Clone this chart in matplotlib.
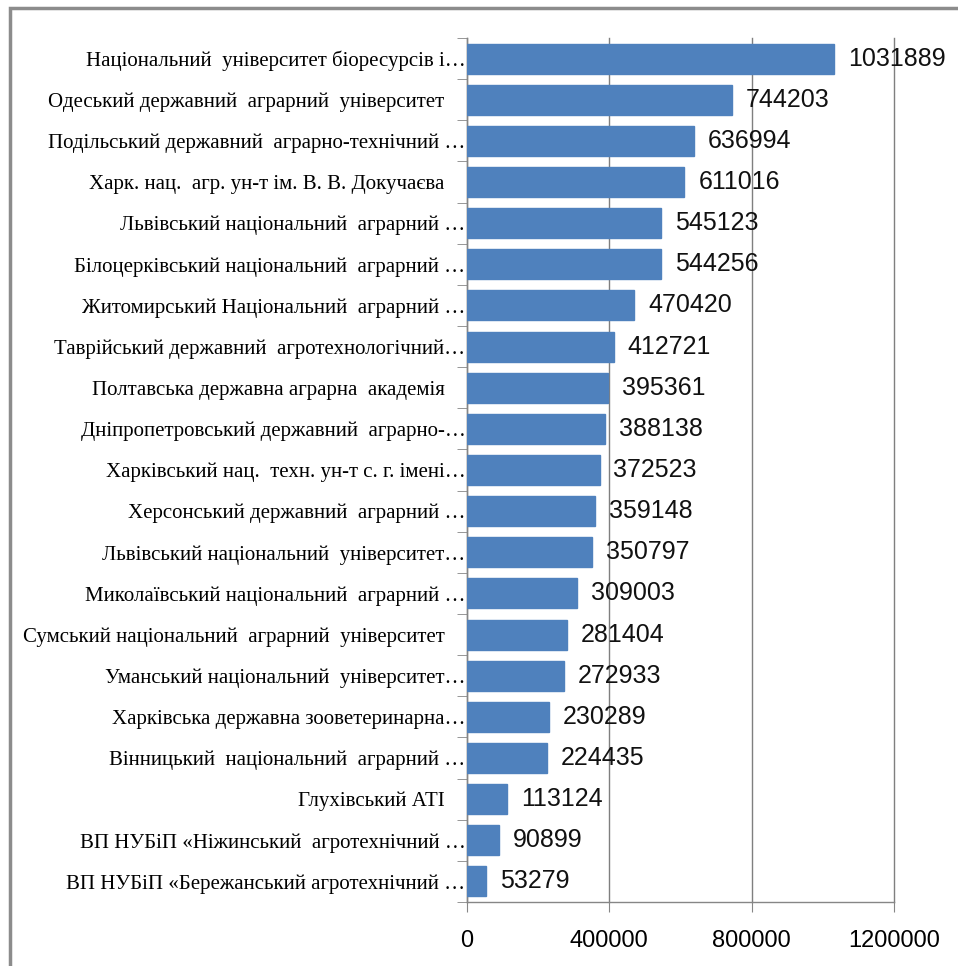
import numpy as np
import matplotlib.pyplot as plt
from matplotlib.patches import Rectangle

# Universities (top to bottom) and values
labels = [
    "Національний  університет біоресурсів і…",
    "Одеський державний  аграрний  університет",
    "Подільський державний  аграрно-технічний …",
    "Харк. нац.  агр. ун-т ім. В. В. Докучаєва",
    "Львівський національний  аграрний …",
    "Білоцерківський національний  аграрний …",
    "Житомирський Національний  аграрний …",
    "Таврійський державний  агротехнологічний…",
    "Полтавська державна аграрна  академія",
    "Дніпропетровський державний  аграрно-…",
    "Харківський нац.  техн. ун-т с. г. імені…",
    "Херсонський державний  аграрний …",
    "Львівський національний  університет…",
    "Миколаївський національний  аграрний …",
    "Сумський національний  аграрний  університет",
    "Уманський національний  університет…",
    "Харківська державна зооветеринарна…",
    "Вінницький  національний  аграрний …",
    "Глухівський АТІ",
    "ВП НУБіП «Ніжинський  агротехнічний …",
    "ВП НУБіП «Бережанський агротехнічний …",
]
values = [1031889, 744203, 636994, 611016, 545123, 544256, 470420, 412721,
          395361, 388138, 372523, 359148, 350797, 309003, 281404, 272933,
          230289, 224435, 113124, 90899, 53279]
x_ticks = [0, 400000, 800000, 1200000]

# labels without an ellipsis sit a bit further from the axis
disp_labels = [l if l.endswith("…") else l + "    " for l in labels]

dpi = 100
fig = plt.figure(figsize=(958 / dpi, 966 / dpi), dpi=dpi)
fig.patches.append(Rectangle((10 / 958, -0.1), 1.2, 1 - 8 / 966 + 0.1,
                             transform=fig.transFigure, fill=False,
                             edgecolor='#8c8c8c', linewidth=2.5))

ax = fig.add_axes([467 / 958, 64 / 966, 427 / 958, 864 / 966])
y = np.arange(len(values))
ax.barh(y, values, height=0.73, color='#4F81BD', edgecolor='#4F81BD', zorder=3)
ax.set_ylim(len(values) - 0.5, -0.5)
ax.set_xlim(0, 1200000)

for yi, v in zip(y, values):
    ax.annotate(str(v), (v, yi), xytext=(10, 0), textcoords='offset points',
                va='center', ha='left', fontsize=18,
                family='Liberation Sans', color='#111111', zorder=4)

ax.set_yticks(y)
ax.set_yticklabels(disp_labels, family='Liberation Serif', fontsize=15)
ax.tick_params(axis='y', length=0, pad=1)
ax.set_yticks(np.arange(-0.5, len(values)), minor=True)
ax.tick_params(axis='y', which='minor', length=7, color='#868686', direction='out')

ax.set_xticks(x_ticks)
ax.set_xticklabels([str(t) for t in x_ticks], family='Liberation Sans', fontsize=17)
ax.tick_params(axis='x', length=7, color='#868686', pad=13)
ax.xaxis.grid(True, color='#7f7f7f', linewidth=1.0, zorder=0, clip_on=False)

for s in ['top', 'right']:
    ax.spines[s].set_visible(False)
for s in ['left', 'bottom']:
    ax.spines[s].set_color('#868686')
    ax.spines[s].set_linewidth(1.0)

plt.savefig('out.png', dpi=dpi)
